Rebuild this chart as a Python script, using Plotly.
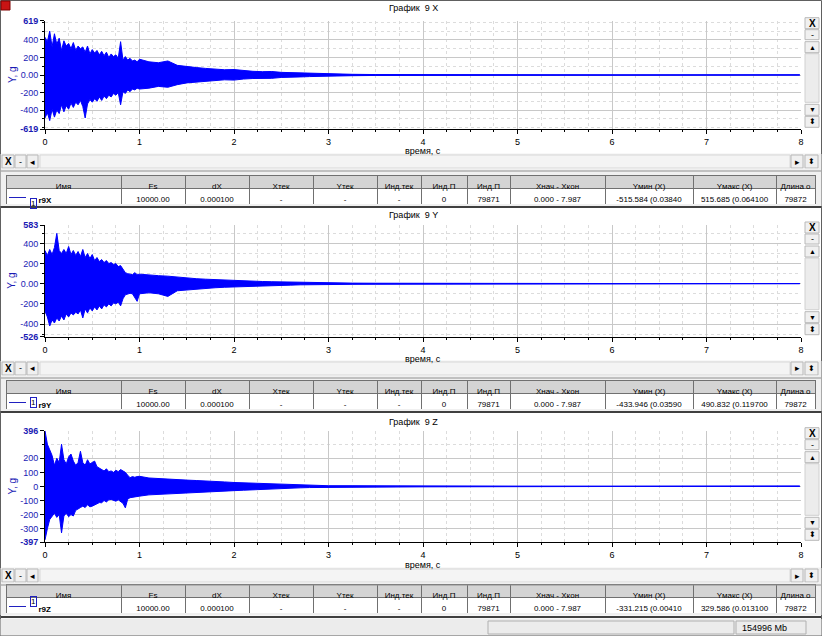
import plotly.graph_objects as go

W, H = 822, 636

# ---------------- data ----------------
T = [0.0, 0.025, 0.05, 0.075, 0.1, 0.125, 0.15, 0.175, 0.2, 0.225, 0.25, 0.275, 0.3, 0.325,
     0.35, 0.375, 0.4, 0.425, 0.45, 0.475, 0.5, 0.525, 0.55, 0.575, 0.6, 0.625, 0.65, 0.675,
     0.7, 0.725, 0.75, 0.775, 0.8, 0.825, 0.85, 0.875, 0.9, 0.925, 0.95, 0.975, 1.0,
     1.1, 1.2, 1.3, 1.4, 1.5, 1.6, 1.7, 1.8, 1.9, 2.0, 2.1, 2.2, 2.3, 2.4, 2.5, 2.6, 2.7,
     2.8, 2.9, 3.0, 3.25, 3.5, 3.75, 4.0, 4.25, 4.5, 4.75, 5.0, 5.5, 6.0, 7.0, 7.987]

# X channel: upper / lower envelope of the signal, g
X_UP = [430, 380, 500, 320, 470, 350, 420, 280, 390, 330, 360, 300, 370, 280, 330, 300, 320,
        260, 330, 240, 290, 250, 280, 230, 270, 220, 260, 200, 240, 210, 230, 190, 380, 170,
        210, 170, 190, 160, 170, 150, 180,
        150, 140, 160, 110, 95, 85, 75, 65, 60, 62, 48, 42, 38, 40, 30, 26, 24, 20, 15, 10,
        8, 5, 4, 4, 3, 3, 5, 2, 1, 1, 1, 1]
X_LO = [-490, -430, -520, -390, -480, -400, -440, -340, -420, -350, -390, -320, -370, -310,
        -340, -290, -360, -490, -330, -280, -310, -270, -300, -250, -290, -240, -270, -230,
        -250, -210, -230, -200, -340, -190, -210, -170, -190, -160, -170, -150, -160,
        -150, -130, -140, -110, -90, -80, -70, -62, -55, -58, -46, -40, -36, -38, -28, -24,
        -22, -18, -14, -9,
        -8, -5, -4, -4, -3, -3, -5, -2, -1, -1, -1, -1]

# Y channel
Y_UP = [330, 280, 340, 290, 360, 500, 330, 300, 340, 300, 370, 290, 330, 280, 320, 270, 340,
        260, 300, 250, 290, 230, 260, 220, 240, 210, 230, 200, 210, 190, 200, 170, 180, 150,
        110, 100, 95, 90, 110, 90, 95,
        85, 80, 75, 65, 55, 50, 45, 40, 36, 32, 28, 25, 22, 20, 18, 15, 12, 10, 8, 7,
        6, 5, 4, 4, 3, 3, 3, 2, 2, 2, 2, 2]
Y_LO = [-270, -330, -420, -360, -390, -340, -370, -320, -360, -300, -330, -290, -310, -280,
        -300, -260, -340, -250, -290, -240, -270, -230, -260, -220, -250, -210, -230, -200,
        -220, -190, -200, -180, -220, -150, -110, -100, -95, -100, -130, -175, -100,
        -90, -100, -126, -70, -60, -52, -46, -40, -35, -30, -27, -24, -21, -19, -16, -14,
        -11, -9, -7, -6,
        -6, -5, -4, -4, -3, -3, -3, -2, -2, -2, -2, -2]

# Z channel
Z_UP = [396, 300, 260, 220, 150, 200, 170, 300, 190, 160, 210, 230, 180, 150, 170, 250, 170,
        150, 190, 160, 170, 180, 140, 130, 120, 110, 125, 105, 110, 100, 115, 105, 120, 110,
        100, 80, 62, 70, 65, 70, 72,
        60, 55, 50, 48, 45, 42, 40, 35, 32, 28, 26, 24, 20, 18, 14, 12, 10, 8, 6, 5,
        5, 4, 4, 3, 3, 3, 2, 2, 2, 2, 2, 2]
Z_LO = [-380, -300, -235, -210, -190, -220, -200, -330, -210, -190, -215, -200, -210, -170,
        -160, -150, -140, -150, -130, -145, -140, -130, -125, -115, -116, -100, -110, -95,
        -92, -100, -105, -95, -104, -120, -152, -90, -80, -75, -70, -72, -69,
        -60, -57, -52, -48, -45, -42, -40, -36, -33, -30, -27, -24, -21, -18, -15, -12,
        -10, -8, -6, -5,
        -5, -4, -4, -3, -3, -3, -2, -2, -2, -2, -2, -2]

TITLES = ["График  9 X", "График  9 Y", "График  9 Z"]
Y_RANGES = [(-619, 619), (-526, 583), (-397, 396)]
Y_TICKS = [[-619, -400, -200, 0, 200, 400, 619],
           [-526, -400, -200, 0, 200, 400, 583],
           [-397, -300, -200, -100, 0, 100, 200, 396]]
Y_TICKTEXT = [["<b>-619</b>", "-400", "-200", "0.00", "200", "400", "<b>619</b>"],
              ["<b>-526</b>", "-400", "-200", "0.00", "200", "400", "<b>583</b>"],
              ["<b>-397</b>", "-300", "-200", "-100", "0", "100", "200", "<b>396</b>"]]
X_TICKS = [0, 1, 2, 3, 4, 5, 6, 7, 8]

TABLE_HEADER = ["Имя", "Fs", "dX", "Xтек", "Yтек", "Инд.тек", "Инд.П", "Инд.П",
                "Xнач\u00a0-\u00a0Xкон", "Yмин\u00a0(X)", "Yмакс\u00a0(X)", "Длина\u00a0о"]
TABLE_ROWS = [
    ["<b>r9X</b>", "10000.00", "0.000100", "-", "-", "-", "0", "79871", "0.000\u00a0-\u00a07.987",
     "-515.584\u00a0(0.03840", "515.685\u00a0(0.064100", "79872"],
    ["<b>r9Y</b>", "10000.00", "0.000100", "-", "-", "-", "0", "79871", "0.000\u00a0-\u00a07.987",
     "-433.946\u00a0(0.03590", "490.832\u00a0(0.119700", "79872"],
    ["<b>r9Z</b>", "10000.00", "0.000100", "-", "-", "-", "0", "79871", "0.000\u00a0-\u00a07.987",
     "-331.215\u00a0(0.00410", "329.586\u00a0(0.013100", "79872"],
]
LEGEND_NUM = "1"
COL_W = [115, 64, 64, 64, 64, 44, 46, 43, 95, 88, 83, 39]
STATUS_TEXT = "154996 Mb"

SIGNALS = [(X_UP, X_LO), (Y_UP, Y_LO), (Z_UP, Z_LO)]

# ---------------- layout geometry (pixels) ----------------
PANELS = [
    dict(title_y=8, top=20.7, bot=129.3, xt_y=151, tb=(155, 168), tab=(175, 201), border=207),
    dict(title_y=215, top=225.0, bot=336.7, xt_y=358.5, tb=(362, 375), tab=(380, 406), border=412),
    dict(title_y=422, top=430.7, bot=542.3, xt_y=564.5, tb=(569, 582), tab=(584, 610), border=617),
]
PX0, PX1 = 45, 801

FONT = "Liberation Sans, Arial, sans-serif"
BLUE = "#0000ff"
AXBLUE = "#1a1ab4"


def px(x):
    return x / W


def py(y):
    return 1 - y / H


fig = go.Figure()
shapes = []
ann = []


def rect(x0, y0, x1, y1, fill=None, line="#a0a0a0", lw=1, layer="below"):
    shapes.append(dict(type="rect", xref="paper", yref="paper", x0=px(x0), x1=px(x1),
                       y0=py(y1), y1=py(y0), fillcolor=fill or "rgba(0,0,0,0)",
                       line=dict(color=line, width=lw), layer=layer))


def text(x, y, s, size=9, color="black", xanchor="center", angle=0):
    ann.append(dict(xref="paper", yref="paper", x=px(x), y=py(y), text=s,
                    showarrow=False, xanchor=xanchor, yanchor="middle", textangle=angle,
                    font=dict(family=FONT, size=size, color=color)))


def button(x0, y0, x1, y1, s, size=9):
    rect(x0, y0, x1, y1, fill="#f0f0f0", line="#b8b8b8")
    text((x0 + x1) / 2, (y0 + y1) / 2, s, size=size)


# outer frame + top-left icon
rect(0.5, 0.5, 821.5, 635.5, fill="white", line="#606060")
rect(1, 1, 10, 10, fill="#c81414", line="#800000")

for i, p in enumerate(PANELS):
    n = "" if i == 0 else str(i + 1)
    up, lo = SIGNALS[i]
    fig.add_trace(go.Scatter(
        x=T + T[::-1], y=up + lo[::-1], mode="lines", fill="toself",
        fillcolor=BLUE, line=dict(color=BLUE, width=1), xaxis="x" + n, yaxis="y" + n,
        hoverinfo="skip", showlegend=False))
    fig.add_trace(go.Scatter(
        x=[T[0], T[-1]], y=[0, 0], mode="lines", line=dict(color=BLUE, width=1),
        xaxis="x" + n, yaxis="y" + n, hoverinfo="skip", showlegend=False))

    ydom = [py(p["bot"]), py(p["top"])]
    fig.layout["xaxis" + n] = dict(
        domain=[px(PX0), px(PX1)], anchor="y" + n, range=[0, 8], tickvals=X_TICKS,
        automargin=False,
        showline=True, linecolor="black", linewidth=1, ticks="outside", ticklen=4,
        tickcolor="black", tickfont=dict(family=FONT, size=9, color="black"),
        showgrid=True, gridcolor="#c8c8c8", gridwidth=1, zeroline=False,
        minor=dict(dtick=0.25, ticks="outside", ticklen=2, tickcolor="black",
                   showgrid=True, gridcolor="#dcdcdc", griddash="dot"),
        fixedrange=True)
    fig.layout["yaxis" + n] = dict(
        domain=ydom, anchor="x" + n, range=list(Y_RANGES[i]), tickvals=Y_TICKS[i],
        ticktext=Y_TICKTEXT[i], showline=True, linecolor="black", linewidth=1,
        automargin=False,
        ticks="outside", ticklen=4, tickcolor="black",
        tickfont=dict(family=FONT, size=9, color=AXBLUE), showgrid=True,
        gridcolor="#c8c8c8", zeroline=False,
        minor=dict(dtick=100, ticks="outside", ticklen=2, tickcolor="black",
                   showgrid=True, gridcolor="#dcdcdc", griddash="dot"),
        fixedrange=True)

    # titles
    text(413, p["title_y"], TITLES[i], size=9)
    text(423, p["xt_y"], "время, с", size=9)
    text(12, (p["top"] + p["bot"]) / 2, "Y, g", size=10, color=AXBLUE, angle=-90)

    # right vertical scroll bar
    st, sb = p["top"] - 3, p["bot"] - 1
    rect(805, st + 36, 819, sb - 26, fill="#ececec", line="#d0d0d0")
    button(805, st, 819, st + 11, "<b>X</b>", 10)
    button(805, st + 12, 819, st + 22, "-", 9)
    button(805, st + 24, 819, st + 35, "▲", 7)
    button(805, sb - 24, 819, sb - 13, "▼", 7)
    button(805, sb - 12, 819, sb - 1, "⬍", 8)

    # bottom toolbar
    t0, t1 = p["tb"]
    rect(1, t0 - 1, 821, t1 + 1, fill="#f0f0f0", line="#f0f0f0")
    rect(40, t0, 790, t1, fill="#f4f4f4", line="#d8d8d8")
    button(2, t0, 14, t1, "<b>X</b>", 10)
    button(15, t0, 26, t1, "-", 9)
    button(27, t0, 38, t1, "◂", 9)
    button(791, t0, 803, t1, "▸", 9)
    button(805, t0, 818, t1, "⬍", 8)

    # table strip
    a0, a1 = p["tab"]
    rect(1, t1 + 1, 821, a1 + 5, fill="#f0f0f0", line="#f0f0f0")
    shapes.append(dict(type="line", xref="paper", yref="paper", x0=px(1), x1=px(821),
                       y0=py(p["border"]), y1=py(p["border"]),
                       line=dict(color="#404040", width=2)))
    shapes.append(dict(type="line", xref="paper", yref="paper", x0=px(1), x1=px(821),
                       y0=py(t1 + 3), y1=py(t1 + 3), line=dict(color="#909090", width=1)))

    cols = [[r] for r in TABLE_ROWS[i]]
    cols[0] = ["\u00a0" * 11 + TABLE_ROWS[i][0]]
    fig.add_trace(go.Table(
        domain=dict(x=[px(6), px(815)], y=[py(a1 + 4), py(a0)]),
        columnwidth=COL_W,
        header=dict(values=TABLE_HEADER, height=13, fill_color="#d4d4d4",
                    line=dict(color="#707070", width=1),
                    font=dict(family=FONT, size=8, color="black"), align="center"),
        cells=dict(values=cols, height=13, fill_color="white",
                   line=dict(color="#707070", width=1),
                   font=dict(family=FONT, size=8, color="black"),
                   align=["left"] + ["center"] * 11)))
    # legend icon in first column: line + numbered box
    yc = a0 + 13 + 9.5
    shapes.append(dict(type="line", xref="paper", yref="paper", x0=px(9), x1=px(26),
                       y0=py(yc), y1=py(yc), line=dict(color="#2020c0", width=1),
                       layer="above"))
    ann.append(dict(xref="paper", yref="paper", x=px(29.5), y=py(yc), text=LEGEND_NUM,
                    showarrow=False, bordercolor="#2020c0", borderwidth=1, borderpad=0,
                    font=dict(family=FONT, size=8, color="black")))

# status bar
rect(1, 619, 821, 635, fill="#ececec", line="#ececec")
rect(488, 621, 734, 634, fill="#ececec", line="#b0b0b0")
rect(736, 621, 806, 634, fill="#ececec", line="#b0b0b0")
text(740, 628, STATUS_TEXT, size=9, xanchor="left")

fig.update_layout(
    width=W, height=H, margin=dict(l=0, r=0, t=0, b=0, autoexpand=False),
    paper_bgcolor="white", plot_bgcolor="white", showlegend=False,
    shapes=shapes, annotations=ann, font=dict(family=FONT, size=9))

fig.write_html("out.html", config={"displayModeBar": False},
               post_script="document.body.style.margin='0';document.body.style.overflow='hidden';")
